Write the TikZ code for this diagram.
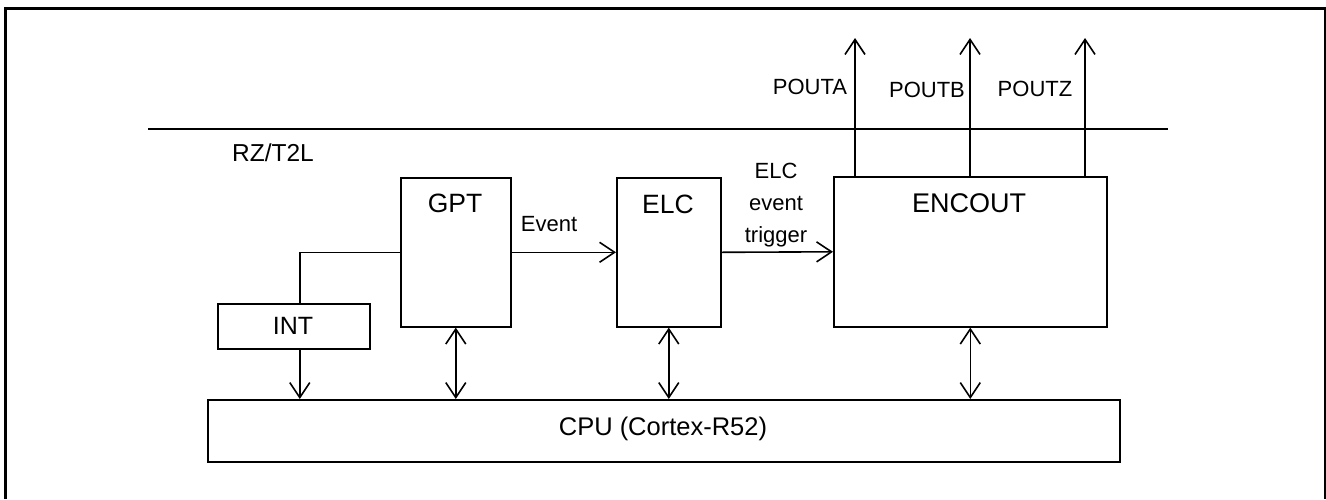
\documentclass[tikz,border=0pt]{standalone}
\usepackage{fontspec}
\setmainfont{Liberation Sans}
\usetikzlibrary{arrows.meta}
\begin{document}
\begin{tikzpicture}[x=1pt,y=-1pt, line width=1.6pt,
  blk/.style={draw, line width=1.6pt, inner sep=0pt, anchor=north west},
  arr/.style={-{Straight Barb[length=15pt,width=20pt]}},
  darr/.style={{Straight Barb[length=15pt,width=20pt]}-{Straight Barb[length=15pt,width=20pt]}},
  lbl/.style={anchor=base, inner sep=0pt},
  big/.style={font=\fontsize{26.5}{30}\selectfont},
  mid/.style={font=\fontsize{25}{28}\selectfont},
  small/.style={font=\fontsize{22}{32}\selectfont}]
\useasboundingbox (0,0) rectangle (1326,499);
\draw[line width=3pt] (5,499) -- (5,8) -- (1325,8) -- (1325,499);
% boundary line
\coordinate (hl1) at (148,129);
\coordinate (hl2) at (1168,129);
\draw (hl1) -- (hl2);
\node[lbl, font=\fontsize{24.5}{28}\selectfont] (chip) at (273,161) {RZ/T2L};
% blocks
\node[blk, minimum width=110pt, minimum height=149pt] (gpt) at (400,177) {};
\node[blk, minimum width=104pt, minimum height=149pt] (elc) at (616,177) {};
\node[blk, minimum width=273pt, minimum height=150pt] (enc) at (833,176) {};
\node[blk, minimum width=152pt, minimum height=45pt] (int) at (217,303) {};
\node[blk, minimum width=912pt, minimum height=62pt] (cpu) at (207,399) {};
% block texts
\node[lbl, big] (gptt) at (455,212) {GPT};
\node[lbl, big] (elct) at (668,213) {ELC};
\node[lbl, font=\fontsize{27}{30}\selectfont] (enct) at (969,212) {ENCOUT};
\node[lbl, mid] (intt) at (293,334) {INT};
\node[lbl, font=\fontsize{25.5}{28}\selectfont] (cput) at (663,435) {CPU (Cortex-R52)};
% connectors
\draw (gpt.west) -| ([xshift=6pt]int.north);
\draw[arr] ([xshift=6pt]int.south) -- ([xshift=6pt]int.south |- cpu.north);
\draw[darr] (gpt.south) -- (gpt.south |- cpu.north);
\draw[darr] (elc.south) -- (elc.south |- cpu.north);
\draw[darr] (enc.south) -- (enc.south |- cpu.north);
\draw[arr] (gpt.east) -- (elc.west);
\draw[arr] (elc.east) -- (enc.west);
\node[lbl, small] (ev) at (549,231) {Event};
\node[lbl, small] (trig1) at (776,178) {ELC};
\node[lbl, small] (trig2) at (776,210) {event};
\node[lbl, small] (trig3) at (776,242) {trigger};
% outputs
\coordinate (pa) at (855,38);
\coordinate (pb) at (970,38);
\coordinate (pz) at (1085,38);
\draw[arr] (enc.north -| pa) -- (pa);
\draw[arr] (enc.north -| pb) -- (pb);
\draw[arr] (enc.north -| pz) -- (pz);
\node[lbl, small] (pat) at (810,94) {POUTA};
\node[lbl, small] (pbt) at (927,97) {POUTB};
\node[lbl, small] (pzt) at (1035,96) {POUTZ};
\end{tikzpicture}
\end{document}
